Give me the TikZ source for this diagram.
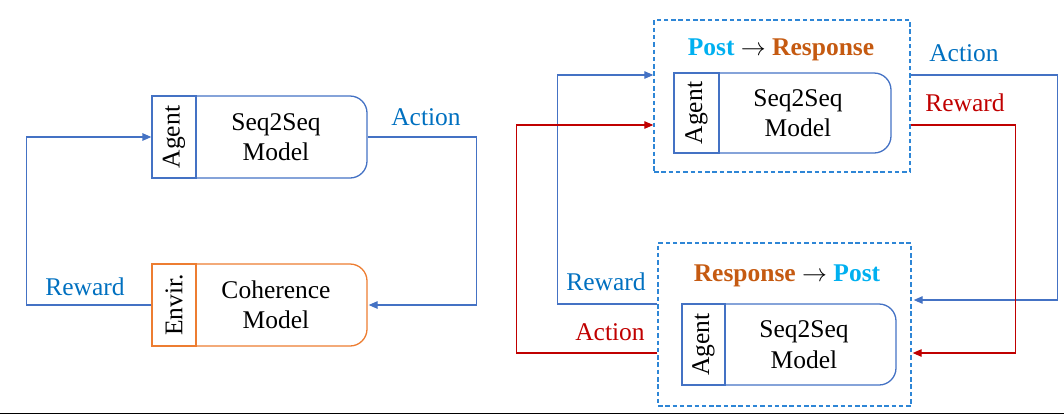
\documentclass[tikz,border=0pt]{standalone}
\usepackage{fontspec}
\setmainfont{Liberation Serif}
\usetikzlibrary{arrows.meta}
\definecolor{lineblue}{RGB}{68,114,196}
\definecolor{labelblue}{RGB}{0,112,192}
\definecolor{envorange}{RGB}{237,125,49}
\definecolor{darkred}{RGB}{192,0,0}
\definecolor{dashblue}{RGB}{46,134,214}
\definecolor{postcyan}{RGB}{0,176,240}
\definecolor{resporange}{RGB}{197,90,17}
\tikzset{
  every node/.style={font=\fontsize{25.5pt}{30.5pt}\selectfont, inner sep=0pt},
  bodybox/.style={draw=#1, line width=1.3pt, rounded corners=17pt, rectangle},
  tagbox/.style={draw=#1, line width=1.3pt, fill=white, rectangle, rotate=90},
  dashbox/.style={draw=dashblue, line width=1.4pt, dash pattern=on 4.5pt off 2.8pt, rectangle},
  modeltext/.style={align=center},
  conn/.style={line width=1.3pt, draw=#1, -{Triangle[length=9pt,width=7.5pt]}},
  lbl/.style={text=#1}
}
\begin{document}
\begin{tikzpicture}[x=1pt,y=-1pt]
\useasboundingbox (0,0) rectangle (1064,416);
% ---------- left part ----------
\node[bodybox=lineblue, minimum width=215pt, minimum height=82pt] (LA) at (259.5,137) {};
\node[tagbox=lineblue, minimum width=82pt, minimum height=44pt] (LAt) at (174,137) {Agent};
\node[modeltext] (LAx) at (276,137) {Seq2Seq\\Model};

\node[bodybox=envorange, minimum width=215pt, minimum height=82pt] (LE) at (259.5,305) {};
\node[tagbox=envorange, minimum width=82pt, minimum height=44pt] (LEt) at (174,305) {Envir.};
\node[modeltext] (LEx) at (276,305) {Coherence\\Model};

\draw[conn=lineblue] (LA.east) -- ++(109,0) |- ([xshift=1pt]LE.east);
\draw[conn=lineblue] (LE.west) -- ++(-125,0) |- (LA.west);
\node[lbl=labelblue] (actL) at (426,117) {Action};
\node[lbl=labelblue] (rewL) at (85,287) {Reward};

% ---------- right part ----------
\node[dashbox, minimum width=256pt, minimum height=152pt] (T) at (782,96) {};
\node (Tt) at (781,50) {\textbf{\color{postcyan}Post} $\rightarrow$ \textbf{\color{resporange}Response}};
\node[bodybox=lineblue, minimum width=217pt, minimum height=80pt] (RA) at (782.5,113) {};
\node[tagbox=lineblue, minimum width=80pt, minimum height=45pt] (RAt) at (696.5,113) {Agent};
\node[modeltext] (RAx) at (798,113) {Seq2Seq\\Model};

\node[dashbox, minimum width=253pt, minimum height=163pt] (B) at (784.5,324.5) {};
\node (Bt) at (787,276) {\textbf{\color{resporange}Response} $\rightarrow$ \textbf{\color{postcyan}Post}};
\node[bodybox=lineblue, minimum width=214pt, minimum height=81pt] (RB) at (789,344.5) {};
\node[tagbox=lineblue, minimum width=81pt, minimum height=43pt] (RBt) at (703.5,344.5) {Agent};
\node[modeltext] (RBx) at (804,344.5) {Seq2Seq\\Model};

% connectors
\draw[conn=lineblue] ([yshift=21pt]T.east) -- ++(147,0) |- ([xshift=2pt,yshift=24.5pt]B.east);
\draw[conn=darkred] ([yshift=-29pt]T.east) -- ++(105,0) |- ([xshift=1pt,yshift=-28.5pt]B.east);
\draw[conn=lineblue] ([yshift=20.5pt]B.west) -- ++(-100,0) |- ([yshift=21pt]T.west);
\draw[conn=darkred] ([yshift=-28.5pt]B.west) -- ++(-141,0) |- ([yshift=-29pt]T.west);

\node[lbl=labelblue] (actR) at (964,53) {Action};
\node[lbl=darkred] (rewR) at (965,103) {Reward};
\node[lbl=labelblue] (rewR2) at (606,282) {Reward};
\node[lbl=darkred] (actR2) at (610,332) {Action};

% bottom rule
\draw[line width=1.6pt, black] (0,413.5) -- (1064,413.5);
\end{tikzpicture}
\end{document}
